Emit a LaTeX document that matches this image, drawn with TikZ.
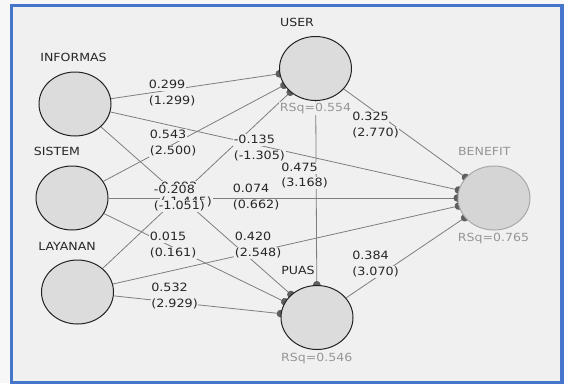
\documentclass[tikz,border=0pt]{standalone}
\usepackage{fontspec}
\usetikzlibrary{arrows.meta,shapes.geometric}
\newfontfamily\dv[FakeStretch=1.12]{DejaVu Sans}
\definecolor{bgout}{HTML}{F7F7F7}
\definecolor{bgin}{HTML}{F0F0F0}
\definecolor{frame}{HTML}{4676CC}
\definecolor{cfill}{HTML}{DCDCDC}
\definecolor{cfillb}{HTML}{D5D5D5}
\definecolor{cdark}{HTML}{222222}
\definecolor{clight}{HTML}{A8A8A8}
\definecolor{cline}{HTML}{7E7E7E}
\definecolor{ctip}{HTML}{5E5E5E}
\definecolor{ctext}{HTML}{262626}
\definecolor{cgray}{HTML}{959595}
\pgfdeclarelayer{back}
\pgfdeclarelayer{edges}
\pgfsetlayers{back,edges,main}
\tikzset{
  lv/.style={ellipse, draw=cdark, line width=1pt, fill=cfill,
    minimum width=72pt, minimum height=64pt, inner sep=0pt},
  lvb/.style={lv, draw=clight, fill=cfillb},
  edgeline/.style={draw=cline, line width=0.8pt,
    -{Circle[length=7.5pt,width=7.5pt,color=ctip,fill=ctip]}, shorten >=-3.5pt},
  nm/.style={font=\dv\fontsize{11.2}{13}\selectfont, text=ctext, inner sep=0pt},
  nmg/.style={nm, text=cgray},
  rsq/.style={nmg, fill=bgin, inner sep=1pt},
  el/.style={font=\dv\fontsize{11.4}{13}\selectfont, text=ctext, fill=bgin,
    inner sep=0.6pt, anchor=west, text height=9pt, text depth=2pt}
}
\newcommand{\pathlab}[5]{%
  \node[el] (#1a) at (#2,#3) {#4};
  \node[el] (#1b) at (#2,#3+15.6) {#5};}
\begin{document}
\begin{tikzpicture}[x=1pt,y=-1pt]
\useasboundingbox (0,0) rectangle (564,383);
\begin{pgfonlayer}{back}
  \fill[bgout] (0,0) rectangle (564,383);
  \fill[bgin] (11.3,5.3) rectangle (562,382.5);
  \draw[frame, line width=3.6pt] (11.3,5.3) rectangle (562,382.5);
\end{pgfonlayer}

% latent variables
\node[lv] (inf) at (75,104) {};
\node[lv] (sis) at (72,198) {};
\node[lv] (lay) at (77.5,292) {};
\node[lv] (usr) at (315.5,68.5) {};
\node[lv] (pua) at (317,317.5) {};
\node[lvb] (ben) at (494,198) {};

% names
\node[nm] (tinf) at (73.5,57.3) {INFORMAS};
\node[nm] (tsis) at (57,151.7) {SISTEM};
\node[nm] (tlay) at (67,246) {LAYANAN};
\node[nm] (tusr) at (297,22.3) {USER};
\node[nm] (tpua) at (298,270.7) {PUAS};
\node[nmg] (tben) at (484.3,151.7) {BENEFIT};

% paths
\begin{pgfonlayer}{edges}
  \draw[edgeline] (inf) -- (usr);
  \draw[edgeline] (sis) -- (usr);
  \draw[edgeline] (lay) -- (usr);
  \draw[edgeline] (inf) -- (ben);
  \draw[edgeline] (sis) -- (ben);
  \draw[edgeline] (lay) -- (ben);
  \draw[edgeline] (inf) -- (pua);
  \draw[edgeline] (sis) -- (pua);
  \draw[edgeline] (lay) -- (pua);
  \draw[edgeline] (usr) -- (ben);
  \draw[edgeline] (pua) -- (ben);
  \draw[edgeline] (usr) -- (pua);
\end{pgfonlayer}

% R squared
\node[rsq] (rusr) at (315.5,108.3) {RSq=0.554};
\node[rsq] (rben) at (493.5,239) {RSq=0.765};
\node[rsq] (rpua) at (316.7,358.3) {RSq=0.546};

% path coefficients
\pathlab{lA}{148}{85}{0.299}{(1.299)}
\pathlab{lB}{149}{135}{0.543}{(2.500)}
\pathlab{lC}{233}{140}{-0.135}{(-1.305)}
\pathlab{lD}{280.5}{167.7}{0.475}{(3.168)}
\pathlab{lE}{160}{186.8}{0.093}{(-1.445)}
\pathlab{lF}{153}{190}{-0.208}{(-1.051)}
\pathlab{lG}{232}{189}{0.074}{(0.662)}
\pathlab{lH}{149}{237.3}{0.015}{(0.161)}
\pathlab{lI}{234}{237.3}{0.420}{(2.548)}
\pathlab{lJ}{150.5}{288.3}{0.532}{(2.929)}
\pathlab{lK}{351.5}{117.3}{0.325}{(2.770)}
\pathlab{lL}{351.5}{256}{0.384}{(3.070)}
\end{tikzpicture}
\end{document}
